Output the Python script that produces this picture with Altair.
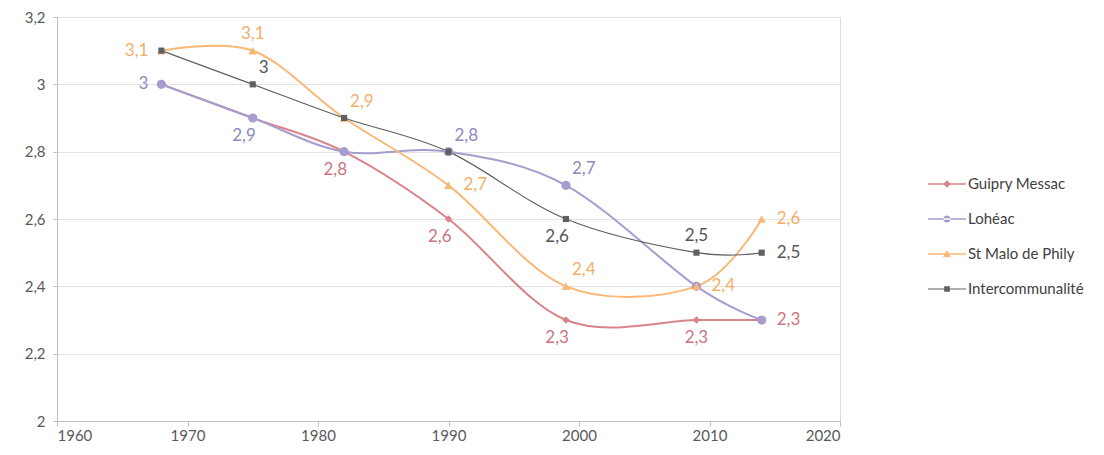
import altair as alt
import pandas as pd

years = [1968, 1975, 1982, 1990, 1999, 2009, 2014]
series_names = ["Guipry Messac", "Lohéac", "St Malo de Phily", "Intercommunalité"]
guipry = [3.0, 2.9, 2.8, 2.6, 2.3, 2.3, 2.3]
loheac = [3.0, 2.9, 2.8, 2.8, 2.7, 2.4, 2.3]
stmalo = [3.1, 3.1, 2.9, 2.7, 2.4, 2.4, 2.6]
interco = [3.1, 3.0, 2.9, 2.8, 2.6, 2.5, 2.5]

# label placement per point ("" = no label)
guipry_lab = ["", "", "BL", "BL", "BL", "B", "R"]
loheac_lab = ["L", "BL", "", "AR", "AR", "", ""]
stmalo_lab = ["L", "A", "AR", "R", "AR", "R", "R"]
interco_lab = ["", "AR", "", "", "BL", "A", "R"]

colors = ["#D9848C", "#A79CD0", "#F9B876", "#606060"]
label_colors = ["#CC7480", "#9088BE", "#F5AE68", "#555555"]
shapes = ["diamond", "circle", "triangle-up", "square"]
sizes = [55, 85, 75, 38]
widths = [2, 2, 2, 1.2]

# legend symbols: line + marker as custom paths
legend_paths = [
    "M-1,-0.045H1V0.045H-1Z M0,-0.2L0.2,0L0,0.2L-0.2,0Z",
    "M-1,-0.045H1V0.045H-1Z M-0.19,0A0.19,0.19 0 1,0 0.19,0A0.19,0.19 0 1,0 -0.19,0Z",
    "M-1,-0.045H1V0.045H-1Z M0,-0.2L0.21,0.16L-0.21,0.16Z",
    "M-1,-0.03H1V0.03H-1Z M-0.15,-0.15H0.15V0.15H-0.15Z",
]

rows = []
for name, vals, labs in zip(series_names, [guipry, loheac, stmalo, interco],
                            [guipry_lab, loheac_lab, stmalo_lab, interco_lab]):
    for y, v, p in zip(years, vals, labs):
        rows.append({"year": y, "value": v, "series": name, "pos": p})
df = pd.DataFrame(rows)

font = "Lato"
xs = alt.X("year:Q", scale=alt.Scale(domain=[1960, 2020], nice=False),
           axis=alt.Axis(values=list(range(1960, 2021, 10)), format="d", title=None,
                         grid=False, labelFontSize=15, labelColor="#595959",
                         labelFont=font, domainColor="#BFBFBF", tickColor="#BFBFBF",
                         tickSize=5, labelPadding=2))
ys = alt.Y("value:Q", scale=alt.Scale(domain=[2, 3.2], nice=False, zero=False),
           axis=alt.Axis(values=[2, 2.2, 2.4, 2.6, 2.8, 3.0, 3.2], title=None,
                         labelExpr="replace(format(datum.value, '.1~f'), '.', ',')",
                         labelFontSize=15, labelColor="#595959", labelFont=font,
                         gridColor="#E4E4E4", domainColor="#BFBFBF", tickColor="#BFBFBF",
                         tickSize=4, labelPadding=8))

base = alt.Chart(df)
layers = []
for i, name in enumerate(series_names):
    layers.append(
        base.transform_filter(alt.datum.series == name)
        .mark_line(interpolate="cardinal", strokeWidth=widths[i], color=colors[i])
        .encode(x=xs, y=ys)
    )
for i, name in enumerate(series_names):
    layers.append(
        base.transform_filter(alt.datum.series == name)
        .mark_point(shape=shapes[i], filled=True, size=sizes[i], opacity=1, color=colors[i])
        .encode(x=xs, y=ys)
    )

offsets = {
    "L": ("right", -13, 0),
    "R": ("left", 15, 0),
    "A": ("center", 0, -17),
    "B": ("center", 0, 18),
    "AR": ("left", 6, -16),
    "BL": ("right", 3, 18),
}
for i, name in enumerate(series_names):
    for code, (al, dx, dy) in offsets.items():
        layers.append(
            base.transform_filter((alt.datum.pos == code) & (alt.datum.series == name))
            .transform_calculate(lab="replace(format(datum.value, '.1~f'), '.', ',')")
            .mark_text(align=al, baseline="middle", dx=dx, dy=dy, fontSize=17, font=font,
                       color=label_colors[i])
            .encode(x=xs, y=ys, text="lab:N")
        )

leg = dict(orient="none", legendX=871, legendY=148, symbolSize=1444, symbolOpacity=1,
           symbolStrokeWidth=0, labelFontSize=15, labelFont=font, labelColor="#404040",
           labelOffset=2, rowPadding=8, padding=0)
legend_df = pd.DataFrame({"series": series_names})
dummy = alt.Chart(legend_df).mark_point(filled=True, opacity=0).encode(
    color=alt.Color("series:N", scale=alt.Scale(domain=series_names, range=colors),
                    title=None, legend=alt.Legend(**leg)),
    shape=alt.Shape("series:N", scale=alt.Scale(domain=series_names, range=legend_paths),
                    title=None, legend=alt.Legend(**leg)),
)
layers.append(dummy)

chart = alt.layer(*layers).properties(
    width=783, height=404,
    autosize=alt.AutoSizeParams(type="none"),
    padding={"left": 49, "top": 9, "right": 255, "bottom": 25},
).configure_view(stroke=None).configure(background="white")

chart.save("out.html", embed_options={"renderer": "svg", "actions": False})
